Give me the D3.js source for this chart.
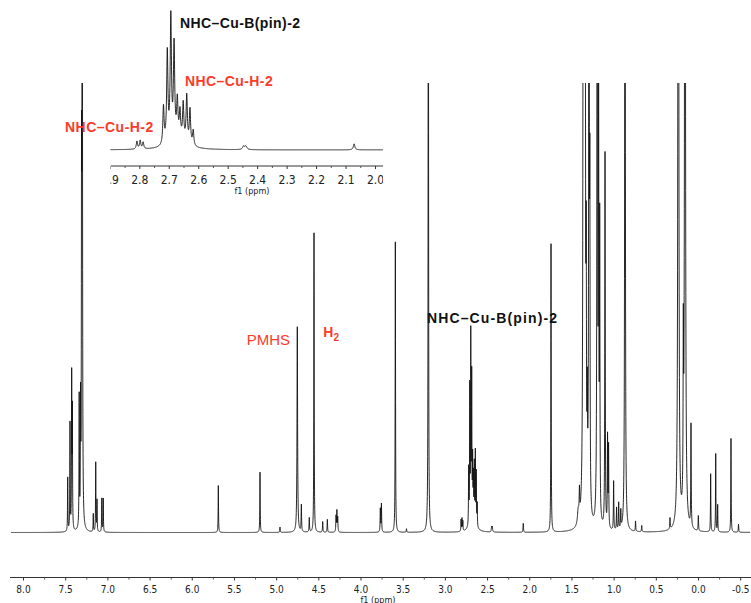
<!DOCTYPE html>
<html>
<head>
<meta charset="utf-8">
<script src="https://cdn.jsdelivr.net/npm/d3@7"></script>
<style>
  body { margin: 0; background: #fff; }
  .tick text { font-family: "Liberation Sans Narrow", "DejaVu Sans Condensed", sans-serif; }
</style>
</head>
<body>
<svg id="chart" width="751" height="603"></svg>
<script>
// peaks: [ppm, height, half width (ppm)]
// height is in plot units, 100 = top edge of the main plot
const aromaticPeaks = [
  [7.470, 12, 0.0025], [7.443, 24, 0.0025], [7.423, 34, 0.0025], [7.415, 26, 0.0025],
  [7.334, 29, 0.0025], [7.318, 26, 0.0025], [7.306, 70, 0.0025], [7.298, 260, 0.0025],
  [7.167, 4, 0.0025], [7.138, 15.5, 0.0025], [7.123, 7, 0.0025],
  [7.066, 7.5, 0.0025], [7.049, 7.5, 0.0025]
];
const midPeaks = [
  [5.685, 10.5, 0.0025], [5.191, 13.5, 0.0025], [4.954, 1.2, 0.003],
  [4.749, 46, 0.004], [4.701, 6, 0.003], [4.607, 3.2, 0.003],
  [4.551, 67, 0.0025], [4.448, 2.4, 0.003], [4.393, 2.9, 0.003],
  [4.290, 3.5, 0.003], [4.280, 4.6, 0.003], [4.270, 3.2, 0.003],
  [3.765, 5.2, 0.003], [3.752, 6.3, 0.003], [3.587, 65, 0.0025],
  [3.455, 0.8, 0.003], [3.196, 200, 0.0025]
];
// the multiplet blown up in the inset
const multipletPeaks = [
  [2.808, 2.6, 0.0025], [2.797, 2.8, 0.0025], [2.787, 2.2, 0.0025],
  [2.718, 12.5, 0.0025], [2.705, 30, 0.0025], [2.693, 41, 0.0025], [2.682, 31, 0.0025],
  [2.671, 12, 0.0025], [2.662, 8.5, 0.0025], [2.651, 12, 0.0025], [2.639, 15.5, 0.0025],
  [2.628, 11.5, 0.0025], [2.617, 5, 0.0025], [2.668, 3.5, 0.03],
  [2.446, 1.1, 0.004], [2.438, 1.1, 0.004], [2.071, 2.0, 0.003]
];
const alkylPeaks = [
  [1.742, 64.5, 0.0025],
  [1.420, 3, 0.01], [1.405, 6, 0.004], [1.358, 300, 0.004], [1.340, 300, 0.004],
  [1.325, 46, 0.003], [1.312, 20, 0.003], [1.292, 250, 0.003], [1.282, 65, 0.003],
  [1.194, 300, 0.003], [1.178, 95, 0.003], [1.165, 65, 0.003], [1.102, 84, 0.003],
  [1.072, 20, 0.003], [1.060, 18, 0.003], [1.000, 11, 0.003],
  [0.965, 5, 0.003], [0.940, 6, 0.003], [0.915, 4, 0.003], [0.865, 300, 0.003],
  [0.740, 2.3, 0.003], [0.667, 1.4, 0.003], [0.332, 2.5, 0.003],
  [0.233, 300, 0.0045], [0.174, 35, 0.003], [0.154, 300, 0.0045], [0.083, 23, 0.003],
  [-0.004, 3.4, 0.003], [-0.150, 13, 0.0025], [-0.210, 17.5, 0.0025],
  [-0.233, 6, 0.0025], [-0.391, 21, 0.0025], [-0.480, 1.8, 0.003]
];

const mainTicks = [8.0, 7.5, 7.0, 6.5, 6.0, 5.5, 5.0, 4.5, 4.0, 3.5, 3.0, 2.5, 2.0, 1.5, 1.0, 0.5, 0.0, -0.5];
const insetTicks = [2.9, 2.8, 2.7, 2.6, 2.5, 2.4, 2.3, 2.2, 2.1, 2.0];

const red = '#fb3b2a';
const peaks = [].concat(aromaticPeaks, midPeaks, multipletPeaks, alkylPeaks);

function intensity(ppm) {
  let s = 0;
  for (const [p, h, w] of peaks) {
    let d = ppm - p;
    s += h * w * w / (d * d + w * w);
  }
  return s;
}

function sample(from, to, step) {
  let grid = d3.range(from, to, -step)
    .concat(peaks.map(p => p[0]).filter(p => p <= from && p >= to));
  grid.sort((a, b) => b - a);
  return grid.map(p => [p, intensity(p)]);
}

const svg = d3.select('#chart');
const defs = svg.append('defs');

// ---- main spectrum
const x = d3.scaleLinear().domain([8.0, 0.0]).range([23, 698]);
const y = d3.scaleLinear().domain([0, 100]).range([532.5, 85.5]);

defs.append('clipPath').attr('id', 'clip-main')
  .append('rect').attr('x', 0).attr('y', 83).attr('width', 751).attr('height', 520);

svg.append('path')
  .attr('clip-path', 'url(#clip-main)')
  .attr('d', d3.line().x(d => x(d[0])).y(d => y(d[1]))(sample(x.invert(11), x.invert(750), 0.001)))
  .attr('fill', 'none')
  .attr('stroke', '#111')
  .attr('stroke-width', 0.9);

const axisY = 577.5;
svg.append('line')
  .attr('x1', 10).attr('x2', 751).attr('y1', axisY).attr('y2', axisY)
  .attr('stroke', '#333').attr('stroke-width', 1);

let mainAxis = svg.append('g')
  .attr('transform', `translate(0,${axisY})`)
  .call(d3.axisBottom(x).tickValues(mainTicks).tickSize(3).tickPadding(5)
    .tickFormat(d => d.toFixed(1)));
mainAxis.select('.domain').remove();
mainAxis.selectAll('.tick line').attr('stroke', '#333');
mainAxis.selectAll('.tick text').attr('font-size', 10).attr('fill', '#222');

let mainMinor = svg.append('g')
  .attr('transform', `translate(0,${axisY})`)
  .call(d3.axisBottom(x).tickValues(mainTicks.map(t => t - 0.25)).tickSize(2).tickFormat(''));
mainMinor.select('.domain').remove();
mainMinor.selectAll('.tick line').attr('stroke', '#555');

svg.append('text')
  .attr('x', 378).attr('y', 602.5)
  .attr('text-anchor', 'middle')
  .attr('font-family', '"Liberation Sans Narrow", "DejaVu Sans Condensed", sans-serif')
  .attr('font-size', 9).attr('fill', '#222')
  .text('f1 (ppm)');

// ---- inset (2.9 - 2.0 ppm)
const ix = d3.scaleLinear().domain([2.8, 2.0]).range([139.3, 375]);
const iy = d3.scaleLinear().domain([0, 100]).range([150, -151]);

defs.append('clipPath').attr('id', 'clip-inset')
  .append('rect').attr('x', 110.5).attr('y', 0).attr('width', 272.5).attr('height', 200);

let inset = svg.append('g').attr('clip-path', 'url(#clip-inset)');

inset.append('path')
  .attr('d', d3.line().x(d => ix(d[0])).y(d => iy(d[1]))(sample(ix.invert(110), ix.invert(383), 0.0004)))
  .attr('fill', 'none')
  .attr('stroke', '#111')
  .attr('stroke-width', 0.9);

const insetAxisY = 166;
inset.append('line')
  .attr('x1', 111).attr('x2', 383).attr('y1', insetAxisY).attr('y2', insetAxisY)
  .attr('stroke', '#333');

let insetAxis = inset.append('g')
  .attr('transform', `translate(0,${insetAxisY})`)
  .call(d3.axisBottom(ix).tickValues(insetTicks).tickSize(3).tickPadding(6)
    .tickFormat(d => d.toFixed(1)));
insetAxis.select('.domain').remove();
insetAxis.selectAll('.tick line').attr('stroke', '#333');
insetAxis.selectAll('.tick text').attr('font-size', 12).attr('fill', '#222');

let insetMinor = inset.append('g')
  .attr('transform', `translate(0,${insetAxisY})`)
  .call(d3.axisBottom(ix).tickValues(insetTicks.map(t => t - 0.05)).tickSize(2).tickFormat(''));
insetMinor.select('.domain').remove();
insetMinor.selectAll('.tick line').attr('stroke', '#555');

svg.append('text')
  .attr('x', 252).attr('y', 194)
  .attr('text-anchor', 'middle')
  .attr('font-family', '"Liberation Sans Narrow", "DejaVu Sans Condensed", sans-serif')
  .attr('font-size', 9).attr('fill', '#222')
  .text('f1 (ppm)');

// ---- labels
function label(txt, lx, ly, size, color, weight, len) {
  let t = svg.append('text')
    .attr('x', lx).attr('y', ly)
    .attr('font-family', '"Liberation Sans", Arial, sans-serif')
    .attr('font-size', size)
    .attr('font-weight', weight)
    .attr('fill', color)
    .text(txt);
  if (len) t.attr('textLength', len).attr('lengthAdjust', 'spacing');
  return t;
}

label('NHC\u2013Cu-B(pin)-2', 180, 28.3, 14, '#111', 'bold', 120);
label('NHC\u2013Cu-H-2', 185, 86, 14, red, 'bold', 87.7);
label('NHC\u2013Cu-H-2', 65, 131.7, 14, red, 'bold', 88.3);
label('NHC\u2013Cu-B(pin)-2', 427, 322.7, 14, '#111', 'bold', 130);
label('PMHS', 246.7, 345, 15, red, 'normal');

let h2 = label('H', 323.3, 336.7, 14, red, 'bold');
h2.append('tspan').attr('dy', 4).attr('font-size', 10).text('2');
</script>
</body>
</html>
